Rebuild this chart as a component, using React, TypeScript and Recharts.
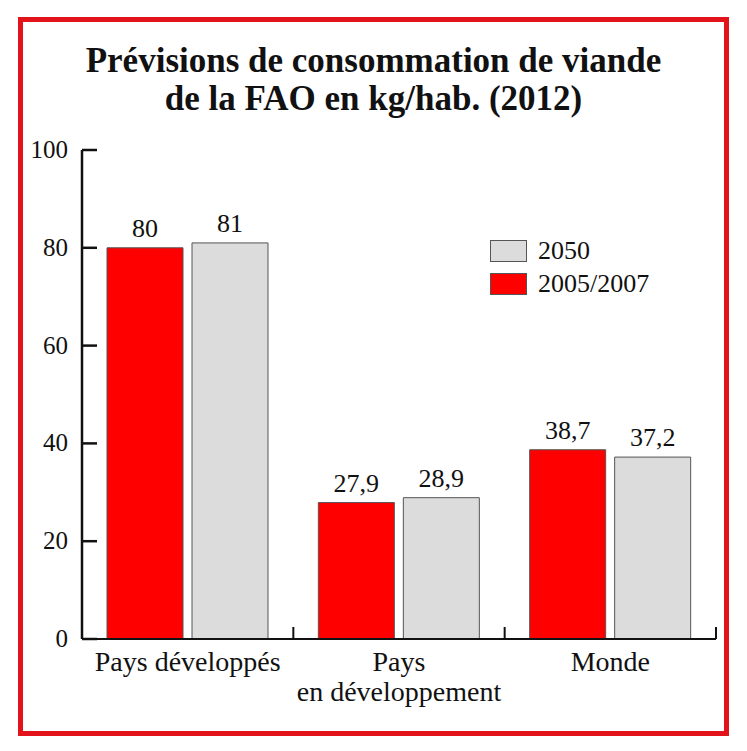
import React from 'react';
import { BarChart, Bar, XAxis, YAxis, LabelList } from 'recharts';

const categories = ['Pays développés', 'Pays\nen développement', 'Monde'];
const values2005 = [80, 27.9, 38.7];
const values2050 = [81, 28.9, 37.2];
const yTicks = [0, 20, 40, 60, 80, 100];
const seriesNames = { s2005: '2005/2007', s2050: '2050' };
const titleLines = ['Prévisions de consommation de viande', 'de la FAO en kg/hab. (2012)'];

const data = categories.map((c, i) => ({ cat: c, s2005: values2005[i], s2050: values2050[i] }));

const W = 747;
const H = 751;
const M = { top: 150, right: 31, bottom: 42, left: 22 };
const Y_W = 60;
const X_H = 70;
const plotW = W - M.left - M.right - Y_W;
const band = plotW / categories.length;
const FONT = '"Liberation Serif", "Times New Roman", serif';
const RED = '#ff0000';
const GRAY = '#dcdcdc';
const STROKE = '#555555';

const YTick = (props: any) => {
  const { x, y, payload } = props;
  return (
    <g>
      <line x1={x} x2={x + 15} y1={y} y2={y} stroke="#111" strokeWidth={2.5} />
      <text x={x - 14} y={y} dy={8} textAnchor="end" fontFamily={FONT} fontSize={25} fill="#111">
        {payload.value}
      </text>
    </g>
  );
};

const XTick = (props: any) => {
  const { x, y, payload } = props;
  const lines = String(payload.value).split('\n');
  return (
    <g>
      <line x1={x + band / 2} x2={x + band / 2} y1={y} y2={y - 12} stroke="#111" strokeWidth={2} />
      <text x={x} y={y} textAnchor="middle" fontFamily={FONT} fontSize={28} fill="#111">
        {lines.map((l, i) => (
          <tspan key={i} x={x} dy={i === 0 ? 32 : 30}>{l}</tspan>
        ))}
      </text>
    </g>
  );
};

const LegendBox = () => {
  const items = [
    { name: seriesNames.s2050, color: GRAY },
    { name: seriesNames.s2005, color: RED },
  ];
  return (
    <div style={{ position: 'absolute', left: 490, top: 234, fontFamily: FONT, fontSize: 26, color: '#111' }}>
      {items.map((it) => (
        <div key={it.name} style={{ display: 'flex', alignItems: 'center', height: 33 }}>
          <div style={{ width: 37, height: 22, background: it.color, border: `1px solid ${STROKE}`, boxSizing: 'border-box', marginRight: 11 }} />
          <span>{it.name}</span>
        </div>
      ))}
    </div>
  );
};

const fmt = (v: any) => String(v).replace('.', ',');
const labelStyle = { fontFamily: FONT, fontSize: 26, fill: '#111' };

export default function App() {
  return (
    <div style={{ position: 'absolute', left: 0, top: 0, width: W, height: H, background: '#fff' }}>
      <div
        style={{
          position: 'absolute', left: 18, top: 17, width: 711, height: 719,
          border: '5px solid #e3131b', boxSizing: 'border-box',
        }}
      />
      <div
        style={{
          position: 'absolute', left: 0, top: 42, width: W, textAlign: 'center',
          fontFamily: FONT, fontWeight: 'bold', fontSize: 35, lineHeight: '38px', color: '#111',
        }}
      >
        {titleLines.map((l) => (<div key={l}>{l}</div>))}
      </div>
      <div style={{ position: 'absolute', left: 0, top: 0 }}>
        <BarChart width={W} height={H} data={data} margin={M} barCategoryGap={25} barGap={9}>
          <XAxis
            dataKey="cat"
            height={X_H}
            tick={<XTick />}
            tickLine={false}
            tickSize={0}
            tickMargin={0}
            axisLine={{ stroke: '#111', strokeWidth: 2 }}
            interval={0}
          />
          <YAxis
            domain={[0, 100]}
            ticks={yTicks}
            width={Y_W}
            tick={<YTick />}
            tickLine={false}
            tickSize={0}
            tickMargin={0}
            axisLine={{ stroke: '#111', strokeWidth: 2.5 }}
            interval={0}
          />
          <Bar dataKey="s2005" name={seriesNames.s2005} fill={RED} stroke={STROKE} strokeWidth={1} isAnimationActive={false}>
            <LabelList dataKey="s2005" position="top" offset={11} formatter={fmt} style={labelStyle} />
          </Bar>
          <Bar dataKey="s2050" name={seriesNames.s2050} fill={GRAY} stroke={STROKE} strokeWidth={1} isAnimationActive={false}>
            <LabelList dataKey="s2050" position="top" offset={11} formatter={fmt} style={labelStyle} />
          </Bar>
        </BarChart>
      </div>
      <LegendBox />
    </div>
  );
}
